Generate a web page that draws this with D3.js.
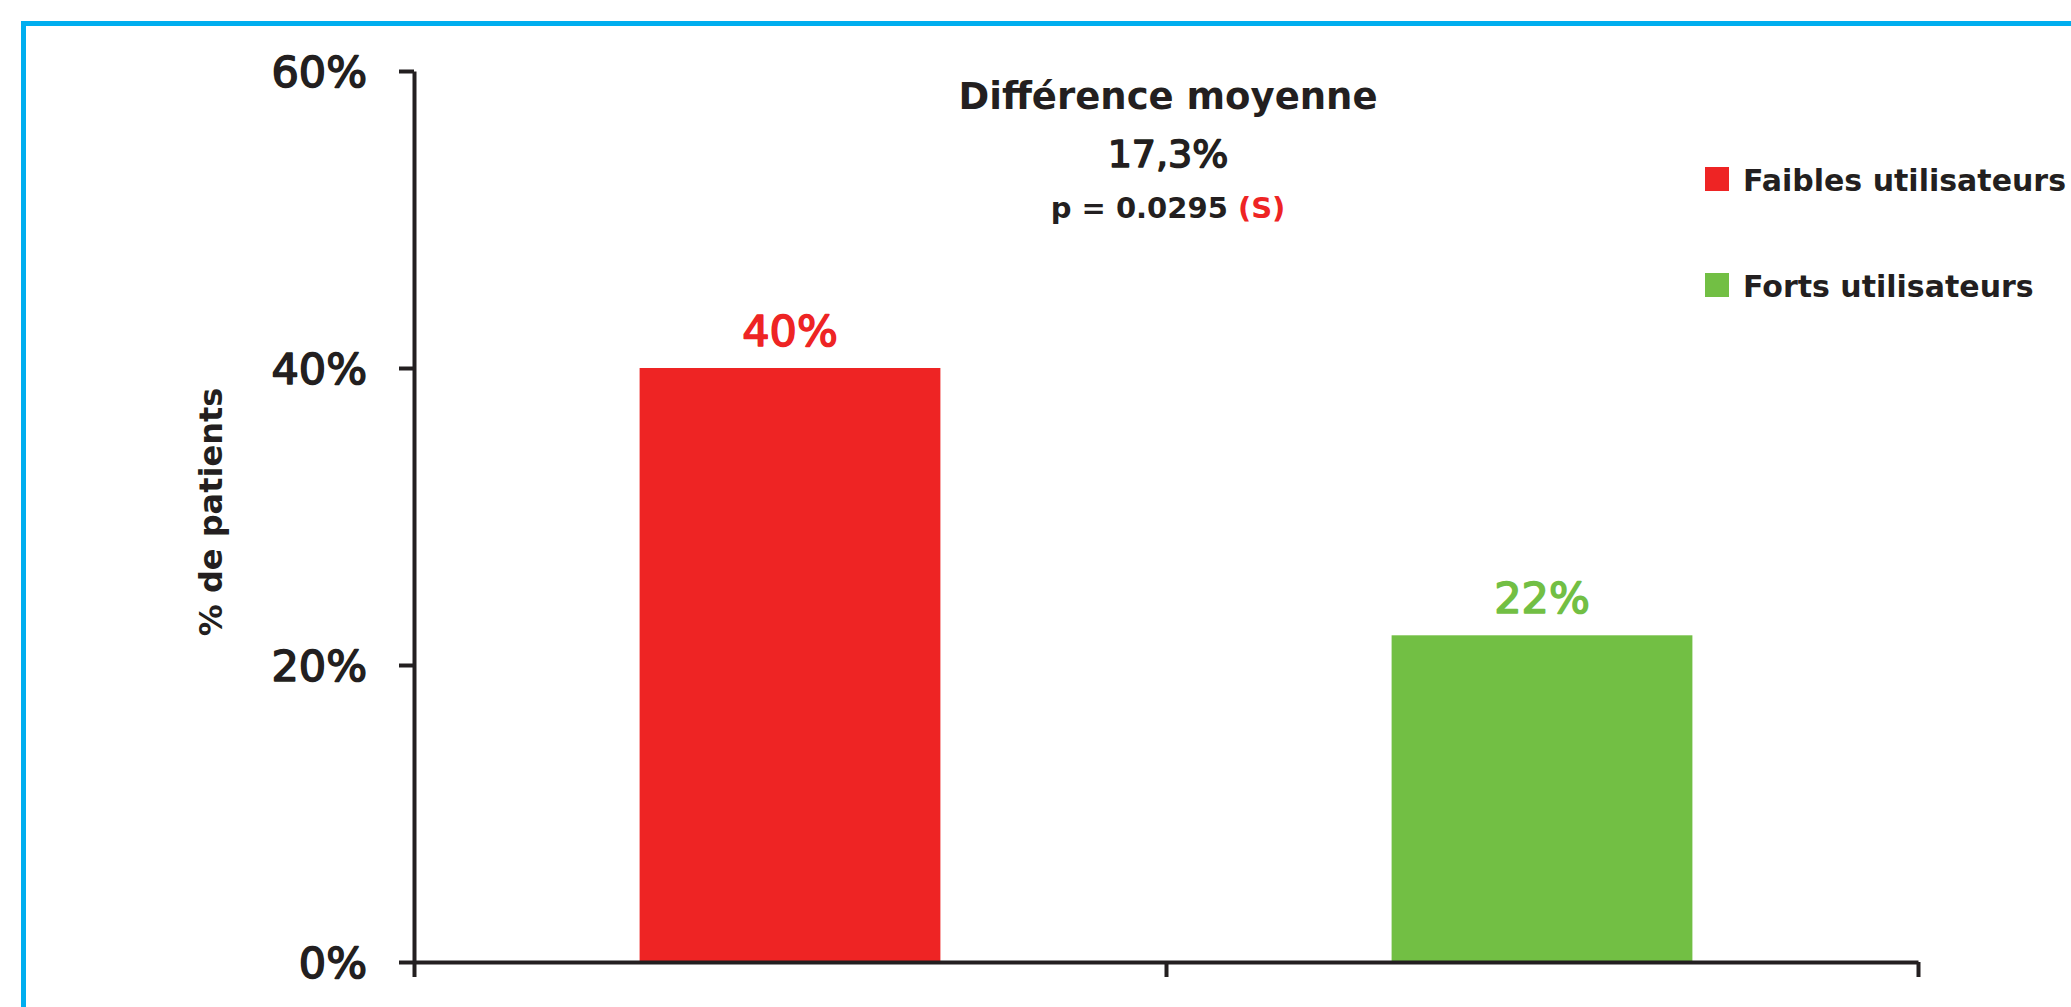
<!DOCTYPE html>
<html>
<head>
<meta charset="utf-8">
<script src="https://cdn.jsdelivr.net/npm/d3@7"></script>
<style>
  html, body { margin: 0; padding: 0; background: #fff; overflow: hidden; }
  svg { display: block; }
  text { font-family: "DejaVu Sans", sans-serif; fill: #231f20; }
  .med { stroke-width: 1.6px; paint-order: stroke; stroke-linejoin: round; }
</style>
</head>
<body>
<svg id="chart" width="2071" height="1007"></svg>
<script>
// ---- data ----
const categories = ["Faibles utilisateurs", "Forts utilisateurs"];
const values = [0.40, 0.22];
const valueLabels = ["40%", "22%"];
const colors = ["#ee2424", "#72bf44"];
const yTicks = [0, 0.2, 0.4, 0.6];
const annotationLines = ["Différence moyenne", "17,3%"];
const pText = "p = 0.0295 ";
const sigText = "(S)";
const yLabel = "% de patients";

const svg = d3.select("#chart");
const W = 2071, H = 1007;
const dark = "#231f20";

// frame
svg.append("rect")
  .attr("x", 23.5).attr("y", 23.5)
  .attr("width", W + 50).attr("height", H + 50)
  .attr("fill", "none").attr("stroke", "#00aeef").attr("stroke-width", 5);

const x0 = 414, x1 = 1918, yTop = 71, yBot = 962;

const y = d3.scaleLinear().domain([0, 0.6]).range([yBot, yTop]);
const xb = d3.scaleBand().domain(categories).range([x0, x1]).paddingInner(0.6).paddingOuter(0.3);
const xEdge = d3.scaleLinear().domain([0, categories.length]).range([x0, x1]);

// bars
svg.selectAll("rect.bar").data(values).join("rect")
  .attr("class", "bar")
  .attr("x", (d, i) => xb(categories[i]))
  .attr("width", xb.bandwidth())
  .attr("y", d => y(d))
  .attr("height", d => y(0) - y(d))
  .attr("fill", (d, i) => colors[i]);

// value labels
svg.selectAll("text.val").data(values).join("text")
  .attr("class", "val med")
  .attr("x", (d, i) => xb(categories[i]) + xb.bandwidth() / 2)
  .attr("y", d => y(d) - 22)
  .attr("text-anchor", "middle")
  .style("font-size", "43px")
  .style("fill", (d, i) => colors[i])
  .style("stroke", (d, i) => colors[i])
  .text((d, i) => valueLabels[i]);

// y axis
const yAxis = d3.axisLeft(y).tickValues(yTicks).tickFormat(d3.format(".0%"))
  .tickSize(15).tickSizeOuter(0).tickPadding(32);
const gy = svg.append("g").attr("transform", `translate(${x0},0)`).call(yAxis);
gy.select(".domain").attr("stroke", dark).attr("stroke-width", 4);
gy.selectAll(".tick line").attr("stroke", dark).attr("stroke-width", 4);
gy.selectAll(".tick text").attr("class", "med")
  .style("font-size", "43px")
  .style("font-family", '"DejaVu Sans", sans-serif')
  .style("fill", dark).style("stroke", dark).attr("dy", "0.36em");

// x axis
const xAxis = d3.axisBottom(xEdge).tickValues(d3.range(categories.length + 1))
  .tickFormat("").tickSize(15).tickSizeOuter(0);
const gx = svg.append("g").attr("transform", `translate(0,${yBot})`).call(xAxis);
gx.select(".domain").attr("stroke", dark).attr("stroke-width", 4);
gx.selectAll(".tick line").attr("stroke", dark).attr("stroke-width", 4);

// y label
svg.append("text")
  .attr("transform", `translate(222,512) rotate(-90)`)
  .attr("text-anchor", "middle")
  .style("font-size", "32px").style("font-weight", 700)
  .text(yLabel);

// annotation
const ax = 1168;
svg.append("text").attr("x", ax).attr("y", 109).attr("text-anchor", "middle")
  .style("font-size", "37px").style("font-weight", 700).text(annotationLines[0]);
svg.append("text").attr("x", ax).attr("y", 167).attr("text-anchor", "middle")
  .attr("class", "med").style("stroke", dark)
  .style("font-size", "38px").text(annotationLines[1]);
const pt = svg.append("text").attr("x", ax).attr("y", 218).attr("text-anchor", "middle")
  .style("font-size", "29px").style("font-weight", 700);
pt.append("tspan").text(pText);
pt.append("tspan").style("fill", "#ee2424").text(sigText);

// legend
const leg = svg.append("g");
const legY = [167, 273];
categories.forEach((c, i) => {
  leg.append("rect").attr("x", 1705).attr("y", legY[i]).attr("width", 24).attr("height", 24)
    .attr("fill", colors[i]);
  leg.append("text").attr("x", 1743).attr("y", legY[i] + 24)
    .style("font-size", "30px").style("font-weight", 700).text(c);
});
</script>
</body>
</html>
